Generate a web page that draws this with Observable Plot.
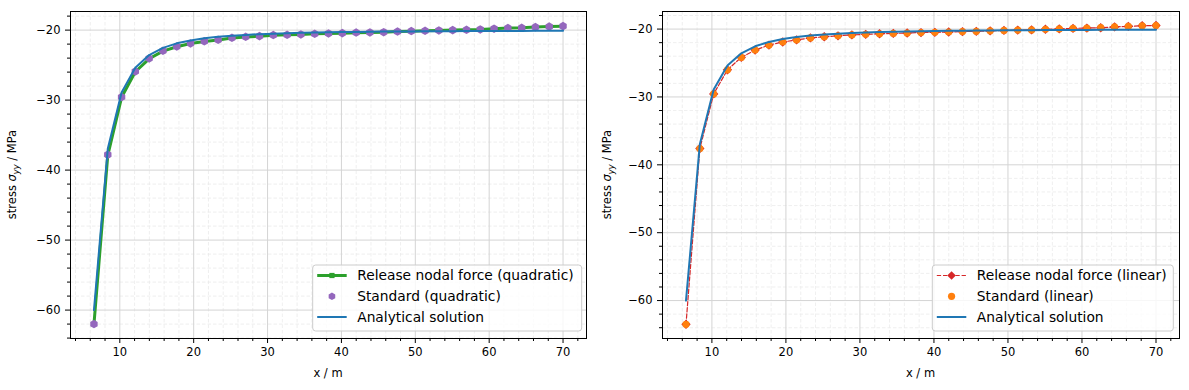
<!DOCTYPE html>
<html>
<head>
<meta charset="utf-8">
<script src="https://cdn.jsdelivr.net/npm/d3@7"></script>
<script src="https://cdn.jsdelivr.net/npm/@observablehq/plot@0.6"></script>
<style>
  html, body { margin: 0; padding: 0; background: white; }
  #wrap { position: relative; width: 1189px; height: 390px; overflow: hidden; }
  #wrap svg { position: absolute; top: 0; }
</style>
</head>
<body>
<div id="wrap"></div>
<script>
// ---------- data ----------
const xNodes = [6.5, 8.37, 10.24, 12.1, 13.97, 15.84, 17.71, 19.57, 21.44, 23.31, 25.18, 27.04, 28.91, 30.78, 32.65, 34.51, 36.38, 38.25, 40.12, 41.99, 43.85, 45.72, 47.59, 49.46, 51.32, 53.19, 55.06, 56.93, 58.79, 60.66, 62.53, 64.4, 66.26, 68.13, 70];

const analytical = [-60, -36.96, -28.91, -25.38, -23.57, -22.54, -21.89, -21.47, -21.17, -20.96, -20.8, -20.68, -20.58, -20.51, -20.44, -20.39, -20.35, -20.31, -20.28, -20.26, -20.23, -20.21, -20.2, -20.18, -20.17, -20.16, -20.15, -20.14, -20.13, -20.12, -20.11, -20.11, -20.1, -20.09, -20.09];

const releaseQuadratic = [-62.0, -37.9, -29.6, -25.95, -24.1, -23.0, -22.37, -21.92, -21.62, -21.4, -21.12, -20.97, -20.87, -20.72, -20.67, -20.62, -20.53, -20.48, -20.43, -20.36, -20.33, -20.29, -20.21, -20.15, -20.1, -20.05, -20.0, -19.95, -19.9, -19.8, -19.71, -19.67, -19.57, -19.5, -19.44];

const standardQuadratic = [-62.0, -37.8, -29.57, -25.9, -24.05, -22.96, -22.34, -21.9, -21.6, -21.39, -21.1, -20.96, -20.86, -20.71, -20.67, -20.62, -20.53, -20.48, -20.43, -20.35, -20.33, -20.29, -20.2, -20.14, -20.1, -20.05, -20.0, -19.95, -19.9, -19.8, -19.7, -19.67, -19.57, -19.5, -19.43];

const releaseLinear = [-63.5, -37.6, -29.56, -26.0, -24.17, -23.1, -22.36, -21.9, -21.6, -21.3, -21.13, -20.99, -20.86, -20.78, -20.69, -20.64, -20.58, -20.51, -20.48, -20.43, -20.37, -20.33, -20.26, -20.2, -20.15, -20.12, -20.03, -19.98, -19.9, -19.85, -19.8, -19.68, -19.61, -19.51, -19.47];

const standardLinear = [-63.5, -37.6, -29.56, -26.0, -24.17, -23.1, -22.36, -21.9, -21.6, -21.3, -21.13, -20.99, -20.86, -20.78, -20.69, -20.64, -20.58, -20.51, -20.48, -20.43, -20.37, -20.33, -20.26, -20.2, -20.15, -20.12, -20.03, -19.98, -19.9, -19.85, -19.8, -19.68, -19.61, -19.51, -19.47];

const xMajorTicks = [10, 20, 30, 40, 50, 60, 70];
const xMinorTicks = [4, 6, 8, 12, 14, 16, 18, 22, 24, 26, 28, 32, 34, 36, 38, 42, 44, 46, 48, 52, 54, 56, 58, 62, 64, 66, 68, 72];
const yMajorTicks = [-60, -50, -40, -30, -20];
const yMinorTicks = [-64, -62, -58, -56, -54, -52, -48, -46, -44, -42, -38, -36, -34, -32, -28, -26, -24, -22, -18];

const leftLabels = ["Release nodal force (quadratic)", "Standard (quadratic)", "Analytical solution"];
const rightLabels = ["Release nodal force (linear)", "Standard (linear)", "Analytical solution"];

// ---------- helpers ----------
const rows = (ys) => xNodes.map((x, i) => ({x, y: ys[i]}));
const FONT = "DejaVu Sans";
const C = {blue: "#1f77b4", green: "#2ca02c", purple: "#9467bd", red: "#d62728", orange: "#ff7f0e"};
const fmt = d => d < 0 ? "\u2212" + Math.abs(d) : String(d);

function basePlot({width, marginLeft, marginRight, yDomain, dataMarks}) {
  return Plot.plot({
    width, height: 390,
    marginLeft, marginRight, marginTop: 11, marginBottom: 52,
    x: {domain: [3.325, 73.175], axis: null},
    y: {domain: yDomain, axis: null},
    style: {fontFamily: FONT, fontSize: "11.5px", color: "black", background: "white", overflow: "visible"},
    marks: [
      Plot.gridX(xMinorTicks, {stroke: "#ebebeb", strokeOpacity: 1, strokeWidth: 0.8, strokeDasharray: "3.5,2"}),
      Plot.gridY(yMinorTicks, {stroke: "#ebebeb", strokeOpacity: 1, strokeWidth: 0.8, strokeDasharray: "3.5,2"}),
      Plot.gridX(xMajorTicks, {stroke: "#d4d4d4", strokeOpacity: 1, strokeWidth: 1}),
      Plot.gridY(yMajorTicks, {stroke: "#d4d4d4", strokeOpacity: 1, strokeWidth: 1}),
      Plot.axisX(xMajorTicks, {tickSize: 5, tickPadding: 4, tickFormat: fmt, label: null, fontSize: 11.5}),
      Plot.axisX(xMinorTicks, {tickSize: 3, tickFormat: () => "", label: null}),
      Plot.axisY(yMajorTicks, {tickSize: 5, tickPadding: 5, tickFormat: fmt, label: null, fontSize: 11.5}),
      Plot.axisY(yMinorTicks, {tickSize: 3, tickFormat: () => "", label: null}),
      ...dataMarks,
      Plot.frame({stroke: "black", strokeWidth: 1})
    ]
  });
}

function addLabels(svg, cx, width) {
  const s = d3.select(svg);
  s.append("text")
    .attr("x", cx).attr("y", 377)
    .attr("text-anchor", "middle")
    .attr("font-family", FONT).attr("font-size", 11.5).attr("fill", "black")
    .text("x / m");
  const t = s.append("text")
    .attr("transform", `translate(${width},174.5) rotate(-90)`)
    .attr("text-anchor", "middle")
    .attr("font-family", FONT).attr("font-size", 11.5).attr("fill", "black");
  t.append("tspan").text("stress ");
  t.append("tspan").attr("font-style", "italic").text("σ");
  t.append("tspan").attr("font-style", "italic").attr("font-size", 8.2).attr("dy", 2.6).text("yy");
  t.append("tspan").attr("dy", -2.6).text(" / MPa");
}

function hexPath(cx, cy, r) {
  const pts = d3.range(6).map(i => {
    const a = Math.PI / 2 + i * Math.PI / 3;
    return [cx + r * Math.cos(a), cy + r * Math.sin(a)];
  });
  return "M" + pts.map(p => p.join(",")).join("L") + "Z";
}

function addLegend(svg, lx, ly, lw, labels, kind) {
  const s = d3.select(svg);
  const g = s.append("g");
  g.append("rect").attr("x", lx).attr("y", ly).attr("width", lw).attr("height", 66)
    .attr("rx", 3).attr("fill", "white").attr("fill-opacity", 0.8)
    .attr("stroke", "#cccccc").attr("stroke-width", 1);
  const hx0 = lx + 4.5, hx1 = lx + 34, hc = (hx0 + hx1) / 2;
  const rowsY = [ly + 10.5, ly + 31.3, ly + 52];
  if (kind === "quad") {
    g.append("line").attr("x1", hx0).attr("x2", hx1).attr("y1", rowsY[0]).attr("y2", rowsY[0])
      .attr("stroke", C.green).attr("stroke-width", 3);
    g.append("rect").attr("x", hc - 2.6).attr("y", rowsY[0] - 2.6).attr("width", 5.2).attr("height", 5.2).attr("fill", C.green);
    g.append("path").attr("d", hexPath(hc, rowsY[1], 3.8)).attr("fill", C.purple);
  } else {
    g.append("line").attr("x1", hx0).attr("x2", hx1).attr("y1", rowsY[0]).attr("y2", rowsY[0])
      .attr("stroke", C.red).attr("stroke-width", 1.2).attr("stroke-dasharray", "4.3,1.9");
    g.append("path").attr("d", `M${hc},${rowsY[0]-4.3}L${hc+4.3},${rowsY[0]}L${hc},${rowsY[0]+4.3}L${hc-4.3},${rowsY[0]}Z`).attr("fill", C.red);
    g.append("circle").attr("cx", hc).attr("cy", rowsY[1]).attr("r", 3.6).attr("fill", C.orange);
  }
  g.append("line").attr("x1", hx0).attr("x2", hx1).attr("y1", rowsY[2]).attr("y2", rowsY[2])
    .attr("stroke", C.blue).attr("stroke-width", 2);
  labels.forEach((lab, i) => {
    g.append("text").attr("x", lx + 44.5).attr("y", rowsY[i]).attr("dy", "0.36em")
      .attr("text-anchor", "start")
      .attr("font-family", FONT).attr("font-size", 13.8).attr("fill", "black").text(lab);
  });
}

// ---------- left panel ----------
const left = basePlot({
  width: 594, marginLeft: 70, marginRight: 8, yDomain: [-64.06, -17.34],
  dataMarks: [
    Plot.line(rows(releaseQuadratic), {x: "x", y: "y", stroke: C.green, strokeWidth: 3}),
    Plot.dot(rows(releaseQuadratic), {x: "x", y: "y", symbol: "square", r: 2.6, fill: C.green}),
    Plot.dot(rows(standardQuadratic), {x: "x", y: "y", symbol: "hexagon", r: 3.7, fill: C.purple}),
    Plot.line(rows(analytical), {x: "x", y: "y", stroke: C.blue, strokeWidth: 2})
  ]
});
left.style.left = "0px";
addLabels(left, 328, 16);
addLegend(left, 312.7, 265, 269, leftLabels, "quad");

// ---------- right panel ----------
const right = basePlot({
  width: 595, marginLeft: 68, marginRight: 10, yDomain: [-65.59, -17.41],
  dataMarks: [
    Plot.line(rows(releaseLinear), {x: "x", y: "y", stroke: C.red, strokeWidth: 1.2, strokeDasharray: "4.3,1.9"}),
    Plot.dot(rows(releaseLinear), {x: "x", y: "y", symbol: "diamond2", r: 4.2, fill: C.red}),
    Plot.dot(rows(standardLinear), {x: "x", y: "y", symbol: "circle", r: 3.6, fill: C.orange}),
    Plot.line(rows(analytical), {x: "x", y: "y", stroke: C.blue, strokeWidth: 2})
  ]
});
right.style.left = "594px";
addLabels(right, 68 + (595 - 78) / 2, 17);
addLegend(right, 932.3 - 594, 265, 241, rightLabels, "lin");

document.getElementById("wrap").append(left, right);
</script>
</body>
</html>
